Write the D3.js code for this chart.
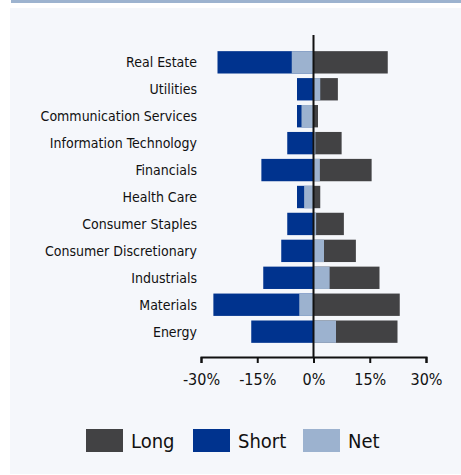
<!DOCTYPE html>
<html>
<head>
<meta charset="utf-8">
<script src="https://cdn.jsdelivr.net/npm/d3@7"></script>
<style>
  body { margin: 0; background: #ffffff; }
  svg text { font-family: "DejaVu Sans Condensed", "Liberation Sans Narrow", sans-serif; fill: #111; }
</style>
</head>
<body>
<div id="chart"></div>
<script>
// sector positioning, % of portfolio
var sectors = ["Real Estate", "Utilities", "Communication Services", "Information Technology",
  "Financials", "Health Care", "Consumer Staples", "Consumer Discretionary",
  "Industrials", "Materials", "Energy"];
var longVals  = [19.8, 6.5, 1.2, 7.5, 15.5, 1.8, 8.1, 11.3, 17.6, 23.0, 22.4];
var shortVals = [-25.6, -4.4, -4.4, -7.0, -13.9, -4.4, -7.0, -8.6, -13.4, -26.7, -16.6];
var netVals   = [-5.8, 1.8, -3.2, 0.5, 1.7, -2.5, 0.7, 2.8, 4.3, -3.8, 6.0];
var tickVals  = [-30, -15, 0, 15, 30];
var seriesNames = ["Long", "Short", "Net"];

var colors = { Long: "#424244", Short: "#00338e", Net: "#9cb2cf" };

var svgWidth = 461;
var svgHeight = 475;

var svg = d3.select("#chart")
  .append("svg")
  .attr("width", svgWidth)
  .attr("height", svgHeight);

// top strip + panel background
svg.append("rect").attr("x", 11).attr("y", 0).attr("width", 450).attr("height", 3).attr("fill", "#9db3cf");
svg.append("rect").attr("x", 10).attr("y", 8).attr("width", 451).attr("height", 466).attr("fill", "#f5f7fb");

var xScale = d3.scaleLinear()
  .domain([-30, 30])
  .range([201, 426]);

var yScale = d3.scaleBand()
  .domain(sectors)
  .range([49, 345])
  .paddingInner(0.17)
  .paddingOuter(0.08);

var rows = sectors.map(function(s, i) {
  return { sector: s, long: longVals[i], short: shortVals[i], net: netVals[i] };
});

var chartGroup = svg.append("g");

function bar(key) {
  chartGroup.selectAll("rect." + key)
    .data(rows)
    .enter()
    .append("rect")
    .attr("class", key)
    .attr("x", d => xScale(Math.min(0, d[key])))
    .attr("width", d => Math.abs(xScale(d[key]) - xScale(0)))
    .attr("y", d => yScale(d.sector))
    .attr("height", yScale.bandwidth())
    .attr("fill", colors[key.charAt(0).toUpperCase() + key.slice(1)]);
}
bar("long");
bar("short");
bar("net");

// zero line
chartGroup.append("line")
  .attr("x1", xScale(0)).attr("x2", xScale(0))
  .attr("y1", 35).attr("y2", 357)
  .attr("stroke", "#111")
  .attr("stroke-width", 2);

// x axis
var xAxis = svg.append("g")
  .attr("transform", "translate(0, 357)")
  .call(d3.axisBottom(xScale).tickValues(tickVals).tickSize(6).tickPadding(11)
    .tickFormat(d => d + "%"));
xAxis.select(".domain").attr("stroke", "#111").attr("stroke-width", 2);
xAxis.selectAll(".tick line").attr("stroke", "#111").attr("stroke-width", 2);
xAxis.selectAll("text")
  .style("font-size", "16px")
  .attr("fill", "#111");

// category labels
svg.append("g").selectAll("text")
  .data(sectors)
  .enter()
  .append("text")
  .attr("x", 197)
  .attr("y", d => yScale(d) + yScale.bandwidth() / 2)
  .attr("dy", "0.35em")
  .attr("text-anchor", "end")
  .style("font-size", "14px")
  .text(d => d);

// legend
var legendX = [86, 193, 303];
var legend = svg.append("g").selectAll("g")
  .data(seriesNames)
  .enter()
  .append("g")
  .attr("transform", (d, i) => `translate(${legendX[i]}, 429)`);
legend.append("rect")
  .attr("width", 37)
  .attr("height", 23)
  .attr("fill", d => colors[d]);
legend.append("text")
  .attr("x", 45)
  .attr("y", 12)
  .attr("dy", "0.36em")
  .style("font-size", "20px")
  .text(d => d);
</script>
</body>
</html>
